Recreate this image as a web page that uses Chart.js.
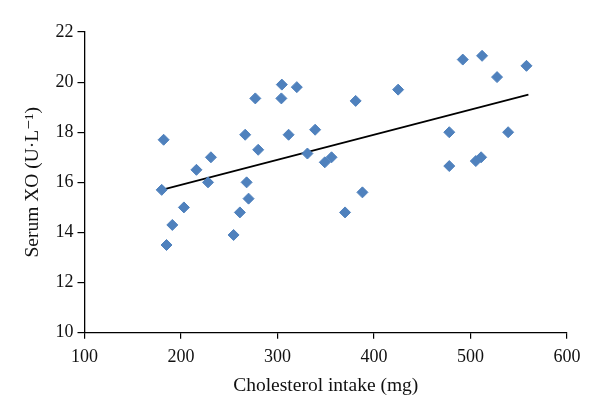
<!DOCTYPE html>
<html>
<head>
<meta charset="utf-8">
<script src="https://cdn.jsdelivr.net/npm/chart.js@4.4.0/dist/chart.umd.min.js"></script>
<style>
  html, body { margin: 0; padding: 0; background: #fff; }
  #wrap { width: 600px; height: 416px; }
</style>
</head>
<body>
<div id="wrap"><canvas id="xoChart" width="600" height="416"></canvas></div>
<script>
// --- Data ---
const cholesterol = [182, 216, 231, 266.5, 277, 280, 304.5, 304, 320, 311.5, 339, 331, 349, 356, 381,
                     180, 228, 268, 270, 261, 254.5, 203, 191, 185, 370, 388,
                     425, 492, 512, 527.5, 558, 478, 539, 478, 505.5, 511];
const serumXO = [17.7, 16.5, 17.0, 17.9, 19.35, 17.3, 19.9, 19.35, 19.8, 17.9, 18.1, 17.15, 16.8, 17.0, 19.25,
                 15.7, 16.0, 16.0, 15.35, 14.8, 13.9, 15.0, 14.3, 13.5, 14.8, 15.6,
                 19.7, 20.9, 21.05, 20.2, 20.65, 18.0, 18.0, 16.65, 16.85, 17.0];

// trend line endpoints as drawn
const trendX = [180, 560];
const trendY = [15.7, 19.5];

const xTicks = [100, 200, 300, 400, 500, 600];
const yTicks = [10, 12, 14, 16, 18, 20, 22];

const serif = "'Liberation Serif', 'DejaVu Serif', serif";

const points = cholesterol.map((c, i) => ({ x: c, y: serumXO[i] }));
const trend = trendX.map((t, i) => ({ x: t, y: trendY[i] }));

const ctx = document.getElementById('xoChart').getContext('2d');
const chart = new Chart(ctx, {
  type: 'scatter',
  data: {
    datasets: [
      {
        label: 'Serum XO',
        data: points,
        pointStyle: 'rectRot',
        pointRadius: 5.5,
        pointHoverRadius: 5.5,
        backgroundColor: '#4F81BD',
        borderColor: '#4F81BD',
        borderWidth: 1
      },
      {
        type: 'line',
        label: 'Trend',
        data: trend,
        borderColor: '#000',
        borderWidth: 1.6,
        pointRadius: 0,
        fill: false
      }
    ]
  },
  options: {
    responsive: false,
    animation: false,
    layout: { padding: { left: 0, right: 33, top: 32, bottom: 0 } },
    plugins: { legend: { display: false }, tooltip: { enabled: false } },
    scales: {
      x: {
        type: 'linear',
        min: 100, max: 600,
        afterBuildTicks: s => { s.ticks = xTicks.map(v => ({ value: v })); },
        afterFit: s => { s.height = 83.3; },
        grid: { drawOnChartArea: false, drawTicks: true, tickLength: 6, color: '#000', lineWidth: 1.2 },
        border: { display: true, color: '#000', width: 1.3 },
        ticks: { color: '#111', padding: 8, font: { family: serif, size: 18 } },
        title: { display: true, text: 'Cholesterol intake (mg)', color: '#111',
                 font: { family: serif, size: 19.5 }, padding: { top: 0, bottom: 18 } }
      },
      y: {
        type: 'linear',
        min: 10, max: 22,
        afterBuildTicks: s => { s.ticks = yTicks.map(v => ({ value: v })); },
        afterFit: s => { s.width = 84.5; },
        grid: { drawOnChartArea: false, drawTicks: true, tickLength: 7, color: '#000', lineWidth: 1.2 },
        border: { display: true, color: '#000', width: 1.3 },
        ticks: { color: '#111', padding: 4, font: { family: serif, size: 18 } },
        title: { display: true, text: 'Serum XO (U\u00B7L\u207B\u00B9)', color: '#111',
                 font: { family: serif, size: 19.5 }, padding: { top: 21, bottom: 0 } }
      }
    }
  }
});
</script>
</body>
</html>
